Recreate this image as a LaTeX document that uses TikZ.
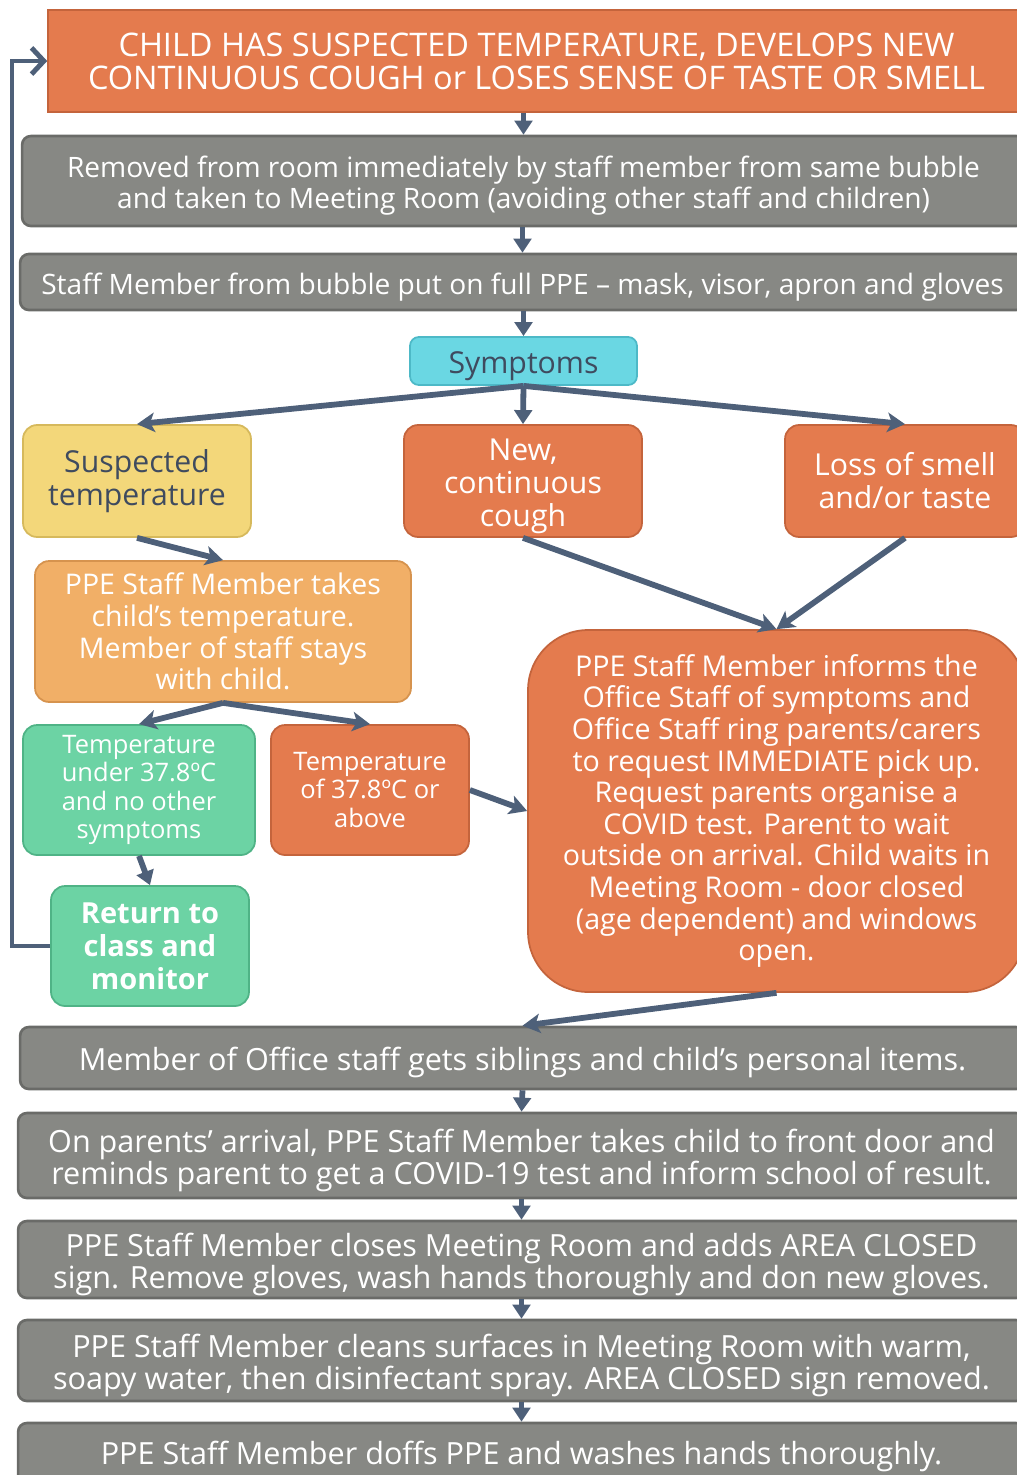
\documentclass[tikz,border=0pt]{standalone}
\usepackage{fontspec}
\setmainfont{Open Sans}
\usetikzlibrary{arrows.meta,positioning}

\definecolor{flowOrange}{HTML}{E47B4E}
\definecolor{flowOrangeDk}{HTML}{C4643C}
\definecolor{flowGray}{HTML}{878884}
\definecolor{flowGrayDk}{HTML}{6A6B68}
\definecolor{flowCyan}{HTML}{6AD7E3}
\definecolor{flowCyanDk}{HTML}{4DB9C7}
\definecolor{flowYellow}{HTML}{F3D77A}
\definecolor{flowYellowDk}{HTML}{D6B95C}
\definecolor{flowPeach}{HTML}{F1AF67}
\definecolor{flowPeachDk}{HTML}{D6934E}
\definecolor{flowGreen}{HTML}{6CD3A4}
\definecolor{flowGreenDk}{HTML}{4FB386}
\definecolor{flowArrow}{HTML}{4E6079}
\definecolor{flowInk}{HTML}{3F4B5F}

% taller first line, so the text sits a little lower in its box
\newcommand\lowerby{\rule{0pt}{\dimexpr\fontcharht\font`\l+5.4pt\relax}}

\begin{document}
\begin{tikzpicture}[x=0.02cm,y=-0.02cm,
  >={Stealth[length=10pt,width=11pt,inset=2.5pt]},
  box/.style={draw, line width=1pt, align=center, inner sep=0pt, text=white},
  grey/.style={box, fill=flowGray, draw=flowGrayDk, line width=1.5pt,
    rounded corners=5pt, font=\fontsize{16}{18}\selectfont},
  greybig/.style={grey, font=\fontsize{17.4}{18.2}\selectfont},
  hot/.style={box, fill=flowOrange, draw=flowOrangeDk, rounded corners=8pt},
  sym/.style={font=\fontsize{17.2}{18.7}\selectfont},
  small/.style={font=\fontsize{14.5}{16.2}\selectfont},
  link/.style={->, draw=flowArrow, line width=3.3pt},
  step link/.style={-{Triangle[length=8pt,width=10pt]}, draw=flowArrow,
    line width=3.3pt}]

\clip (0,0) rectangle (1017,1475);

% top of the flow
\node[box, fill=flowOrange, draw=flowOrangeDk, minimum width=19.54cm,
  minimum height=2.04cm, font=\fontsize{18.5}{18.7}\selectfont]
  (start) at (536.5,61)
  {CHILD HAS SUSPECTED TEMPERATURE, DEVELOPS NEW\\
   CONTINUOUS COUGH or LOSES SENSE OF TASTE OR SMELL};
\node[grey, minimum width=20.06cm, minimum height=1.8cm] (removed) at (523.5,181)
  {\lowerby Removed from room immediately by staff member from same bubble\\
   and taken to Meeting Room (avoiding other staff and children)};
\node[grey, minimum width=20.1cm, minimum height=1.12cm] (ppeon) at (522.5,282)
  {\lowerby Staff Member from bubble put on full PPE -- mask, visor, apron and gloves};

% symptoms
\node[box, fill=flowCyan, draw=flowCyanDk, rounded corners=5pt, text=flowInk,
  minimum width=4.54cm, minimum height=0.96cm, sym] (symptoms) at (523.5,361)
  {\lowerby Symptoms};
\node[box, fill=flowYellow, draw=flowYellowDk, rounded corners=8pt, text=flowInk,
  minimum width=4.56cm, minimum height=2.24cm, sym] (suspected) at (137,481)
  {Suspected\\temperature};
\node[hot, minimum width=4.76cm, minimum height=2.24cm, sym] (cough) at (523,481)
  {\lowerby New,\\continuous\\cough};
\node[hot, minimum width=4.8cm, minimum height=2.24cm, sym] (loss) at (905,481)
  {Loss of smell\\and/or taste};

% temperature branch
\node[box, fill=flowPeach, draw=flowPeachDk, rounded corners=8pt,
  minimum width=7.52cm, minimum height=2.82cm,
  font=\fontsize{16.2}{18}\selectfont] (taketemp) at (223,631.5)
  {PPE Staff Member takes\\child’s temperature.\\Member of staff stays\\with child.};
\node[box, fill=flowGreen, draw=flowGreenDk, rounded corners=8pt,
  minimum width=4.64cm, minimum height=2.6cm, small] (under) at (139,790)
  {Temperature\\under 37.8ºC\\and no other\\symptoms};
\node[hot, minimum width=3.96cm, minimum height=2.6cm, small] (above) at (370,790)
  {Temperature\\of 37.8ºC or\\above};
\node[box, fill=flowGreen, draw=flowGreenDk, rounded corners=8pt,
  minimum width=3.96cm, minimum height=2.4cm,
  font=\fontsize{16.5}{18.7}\selectfont\bfseries] (back) at (150,946)
  {Return to\\class and\\monitor};

% office
\node[hot, rounded corners=1.2cm, minimum width=9.94cm, minimum height=7.24cm,
  font=\fontsize{16.3}{18}\selectfont] (inform) at (776.5,811)
  {PPE Staff Member informs the\\Office Staff of symptoms and\\
   Office Staff ring parents/carers\\to request IMMEDIATE pick up.\\
   Request parents organise a\\COVID test. Parent to wait\\
   outside on arrival. Child waits in\\Meeting Room - door closed\\
   (age dependent) and windows\\open.};

% closing steps
\node[greybig, minimum width=20.1cm, minimum height=1.24cm] (siblings) at (522.5,1058)
  {\lowerby Member of Office staff gets siblings and child’s personal items.};
\node[greybig, minimum width=20.14cm, minimum height=1.7cm] (arrival) at (521.5,1155.5)
  {\lowerby On parents’ arrival, PPE Staff Member takes child to front door and\\
   reminds parent to get a COVID-19 test and inform school of result.};
\node[greybig, minimum width=20.14cm, minimum height=1.54cm] (closes) at (521.5,1259.5)
  {\lowerby PPE Staff Member closes Meeting Room and adds AREA CLOSED\\
   sign. Remove gloves, wash hands thoroughly and don new gloves.};
\node[greybig, minimum width=20.14cm, minimum height=1.62cm] (cleans) at (521.5,1360.5)
  {\lowerby PPE Staff Member cleans surfaces in Meeting Room with warm,\\
   soapy water, then disinfectant spray. AREA CLOSED sign removed.};
\node[greybig, minimum width=20.14cm, minimum height=1.34cm] (doffs) at (521.5,1456.5)
  {PPE Staff Member doffs PPE and washes hands thoroughly.};

\coordinate (loop) at (12,946);

\draw[step link] (removed.north |- start.south) -- (removed.north);
\draw[step link] (ppeon.north |- removed.south) -- (ppeon.north);
\draw[step link] (symptoms.north |- ppeon.south) -- (symptoms.north);

\draw[link] (symptoms.south) -- (suspected.north);
\draw[step link] (symptoms.south) -- (cough.north);
\draw[link] (symptoms.south) -- (loss.north);
\draw[link] (suspected.south) -- (taketemp.north);
\draw[link] (cough.south) -- (inform.north);
\draw[link] (loss.south) -- (inform.north);
\draw[link] (taketemp.south) -- (under.north);
\draw[link] (taketemp.south) -- (above.north);
\draw[link] (above.east) -- (inform.west);
\draw[step link] (under.south) -- (back.north);
\draw[-{Straight Barb[length=7pt,width=15pt]}, draw=flowArrow, line width=2.8pt]
  (back.west) -- (loop) |- (start.west);
\draw[link] (inform.south) -- (siblings.north);

\draw[step link] (siblings.south) -- (arrival.north);
\draw[step link] (arrival.south) -- (closes.north);
\draw[step link] (closes.south) -- (cleans.north);
\draw[step link] (cleans.south) -- (doffs.north);
\end{tikzpicture}
\end{document}
